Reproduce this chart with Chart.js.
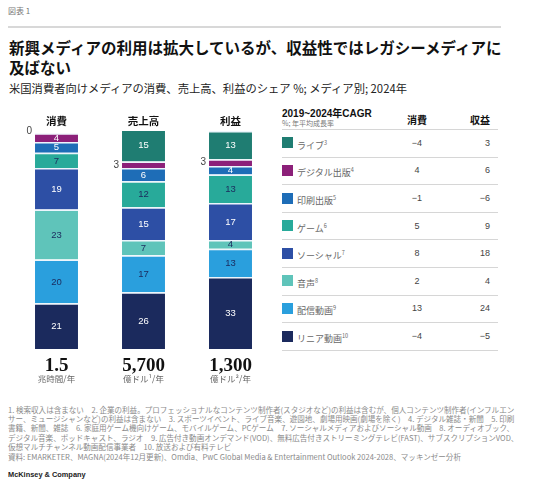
<!DOCTYPE html>
<html lang="ja">
<head>
<meta charset="utf-8">
<script src="https://cdn.jsdelivr.net/npm/chart.js@4/dist/chart.umd.min.js"></script>
<style>
  body { margin: 0; width: 536px; height: 493px; background: #fff; overflow: hidden;
         font-family: "Noto Sans CJK JP", "Noto Sans", sans-serif; color: #111; position: relative; }
  .abs { position: absolute; white-space: nowrap; }
  #fig { left: 8px; top: 5px; font-size: 8px; line-height: 12px; color: #777; }
  #rule { left: 8px; top: 26px; width: 493px; height: 1.5px; background: #d8d8d8; }
  #title { left: 9px; top: 37px; font-size: 15.5px; font-weight: bold; line-height: 20px; color: #111; }
  #subtitle { left: 9px; top: 80px; font-size: 11.3px; line-height: 16px; color: #222; }
  #chartBox { left: 0; top: 105px; width: 275px; height: 290px; }
  #table .abs { font-size: 9px; }
  .tname { color: #666; font-size: 9px; }
  .tname sup { font-size: 5.5px; vertical-align: 4px; }
  .tval { color: #444; font-family: "Liberation Sans", "Noto Sans CJK JP", sans-serif; font-size: 9.5px; }
  .line { height: 1px; background: #d6d6d6; width: 216px; left: 282px; }
  #notes { left: 8px; top: 405px; font-size: 7.55px; line-height: 9.2px; color: #8a8a8a; }
  #source { left: 8px; top: 452px; font-size: 7.55px; line-height: 10px; color: #8a8a8a; }
  #brand { left: 8px; top: 470px; font-size: 7.4px; line-height: 10px; color: #222; font-weight: bold;
           font-family: "Liberation Sans", sans-serif; }
</style>
</head>
<body>
<div id="fig" class="abs">図表 1</div>
<div id="rule" class="abs"></div>
<div id="title" class="abs">新興メディアの利用は拡大しているが、収益性ではレガシーメディアに<br>及ばない</div>
<div id="subtitle" class="abs">米国消費者向けメディアの消費、売上高、利益のシェア %; メディア別; 2024年</div>
<div id="chartBox" class="abs"><canvas id="chart"></canvas></div>
<div id="table"></div>
<div id="notes" class="abs">1. 検索収入は含まない　2. 企業の利益。プロフェッショナルなコンテンツ制作者(スタジオなど)の利益は含むが、個人コンテンツ制作者(インフルエン<br>サー、ミュージシャンなど)の利益は含まない　3. スポーツイベント、ライブ音楽、遊園地、劇場用映画(劇場を除く)　4. デジタル雑誌・新聞　5. 印刷<br>書籍、新聞、雑誌　6. 家庭用ゲーム機向けゲーム、モバイルゲーム、PCゲーム　7. ソーシャルメディアおよびソーシャル動画　8. オーディオブック、<br>デジタル音楽、ポッドキャスト、ラジオ　9. 広告付き動画オンデマンド(VOD)、無料広告付きストリーミングテレビ(FAST)、サブスクリプションVOD、<br>仮想マルチチャンネル動画配信事業者　10. 放送および有料テレビ</div>
<div id="source" class="abs">資料: EMARKETER、MAGNA(2024年12月更新)、Omdia、PwC Global Media &amp; Entertainment Outlook 2024-2028、マッキンゼー分析</div>
<div id="brand" class="abs">McKinsey &amp; Company</div>

<script>
// columns of the stacked chart
const columns = ["消費", "売上高", "利益"];
const totals = ["1.5", "5,700", "1,300"];
const totalUnits = ["兆時間/年", "億ドル¹/年", "億ドル²/年"];

// media, bottom of the stack first
const media = ["リニア動画", "配信動画", "音声", "ソーシャル", "ゲーム", "印刷出版", "デジタル出版", "ライブ"];
const mediaNotes = ["10", "9", "8", "7", "6", "5", "4", "3"];

// share %, 2024
const consumptionShare = [21, 20, 23, 19, 7, 5, 4, 0];
const revenueShare = [26, 17, 7, 15, 12, 6, 3, 15];
const profitShare = [33, 13, 4, 17, 13, 4, 3, 13];

// CAGR 2019-2024 %
const cagrConsumption = [-4, 13, 2, 8, 5, -1, 4, -4];
const cagrRevenue = [-5, 24, 4, 18, 9, -6, 6, 3];

const mediaColors = ["#1b2a5d", "#2a9fdd", "#5fc4ba", "#2d4fa5", "#28aa9a", "#1e6db7", "#8c2079", "#1f7d72"];
const labelColors = ["#fff", "#1b2a5d", "#1b2a5d", "#fff", "#1b2a5d", "#fff", "#fff", "#fff"];

const numFont = '"Liberation Sans", "Noto Sans CJK JP", sans-serif';

function fmt(v) {
    return v < 0 ? "\u2212" + Math.abs(v) : String(v);
}

const segmentLabels = {
    id: "segmentLabels",
    afterDatasetsDraw(chart) {
        const ctx = chart.ctx;
        const xs = chart.scales.x;
        const area = chart.chartArea;
        ctx.save();
        ctx.textBaseline = "middle";
        chart.data.datasets.forEach((ds, i) => {
            const meta = chart.getDatasetMeta(i);
            meta.data.forEach((bar, j) => {
                const v = ds.data[j];
                const mid = (bar.y + bar.base) / 2;
                if (v >= 4) {
                    ctx.font = "9.5px " + numFont;
                    ctx.fillStyle = labelColors[i];
                    ctx.textAlign = "center";
                    ctx.fillText(String(v), bar.x, mid + 0.5);
                } else {
                    ctx.font = "10px " + numFont;
                    ctx.fillStyle = "#444";
                    ctx.textAlign = "right";
                    ctx.fillText(String(v), bar.x - bar.width / 2 - 3, v === 0 ? bar.y - 2 : mid);
                }
            });
        });
        columns.forEach((c, j) => {
            const x = xs.getPixelForValue(j);
            ctx.textAlign = "center";
            ctx.fillStyle = "#111";
            ctx.font = 'bold 10.5px "Noto Sans CJK JP", sans-serif';
            ctx.fillText(c, x, area.top - 10);
            ctx.font = 'bold 19px "Liberation Serif", serif';
            ctx.fillText(totals[j], x, area.bottom + 17);
            ctx.font = '8.5px "Noto Sans CJK JP", sans-serif';
            ctx.fillStyle = "#666";
            ctx.fillText(totalUnits[j], x, area.bottom + 30);
        });
        ctx.restore();
    }
};

new Chart(document.getElementById("chart"), {
    type: "bar",
    data: {
        labels: columns,
        datasets: media.map((m, i) => ({
            label: m,
            data: [consumptionShare[i], revenueShare[i], profitShare[i]],
            backgroundColor: mediaColors[i],
            borderColor: "rgba(235,244,252,0.95)",
            borderWidth: { top: 1.5, bottom: 0, left: 0, right: 0 },
            categoryPercentage: 1,
            barPercentage: 0.494
        }))
    },
    options: {
        responsive: true,
        maintainAspectRatio: false,
        animation: false,
        layout: { padding: { top: 26, bottom: 46, left: 13, right: 1 } },
        scales: {
            x: { stacked: true, display: false },
            y: { stacked: true, display: false, min: 0, max: 100 }
        },
        plugins: {
            legend: { display: false },
            tooltip: { enabled: false }
        }
    },
    plugins: [segmentLabels]
});

// CAGR table, top row = last media
const table = document.getElementById("table");
let html = '<div class="abs" style="left:282px;top:108px;font-size:10px;font-weight:bold;line-height:12px;color:#111;font-family:\'Liberation Sans\',\'Noto Sans CJK JP\',sans-serif">2019~2024年CAGR</div>';
html += '<div class="abs" style="left:282px;top:119px;font-size:7px;line-height:9px;color:#777">%; 年平均成長率</div>';
html += '<div class="abs" style="left:397px;width:40px;text-align:center;top:113px;font-size:10px;font-weight:bold;line-height:14px">消費</div>';
html += '<div class="abs" style="left:450px;width:40px;text-align:right;top:113px;font-size:10px;font-weight:bold;line-height:14px">収益</div>';
html += '<div class="abs line" style="top:129px"></div>';
const pitch = 27.6;
for (let k = 0; k < media.length; k++) {
    const i = media.length - 1 - k;
    const cy = 129 + pitch * k + pitch / 2;
    html += `<div class="abs" style="left:282px;top:${cy - 5.5}px;width:11px;height:11px;background:${mediaColors[i]}"></div>`;
    html += `<div class="abs tname" style="left:297px;top:${cy - 7}px;line-height:14px">${media[i]}<sup>${mediaNotes[i]}</sup></div>`;
    html += `<div class="abs tval" style="left:397px;width:40px;text-align:center;top:${cy - 7}px;line-height:14px">${fmt(cagrConsumption[i])}</div>`;
    html += `<div class="abs tval" style="left:450px;width:40px;text-align:right;top:${cy - 7}px;line-height:14px">${fmt(cagrRevenue[i])}</div>`;
    html += `<div class="abs line" style="top:${129 + pitch * (k + 1)}px"></div>`;
}
table.innerHTML = html;
</script>
</body>
</html>
